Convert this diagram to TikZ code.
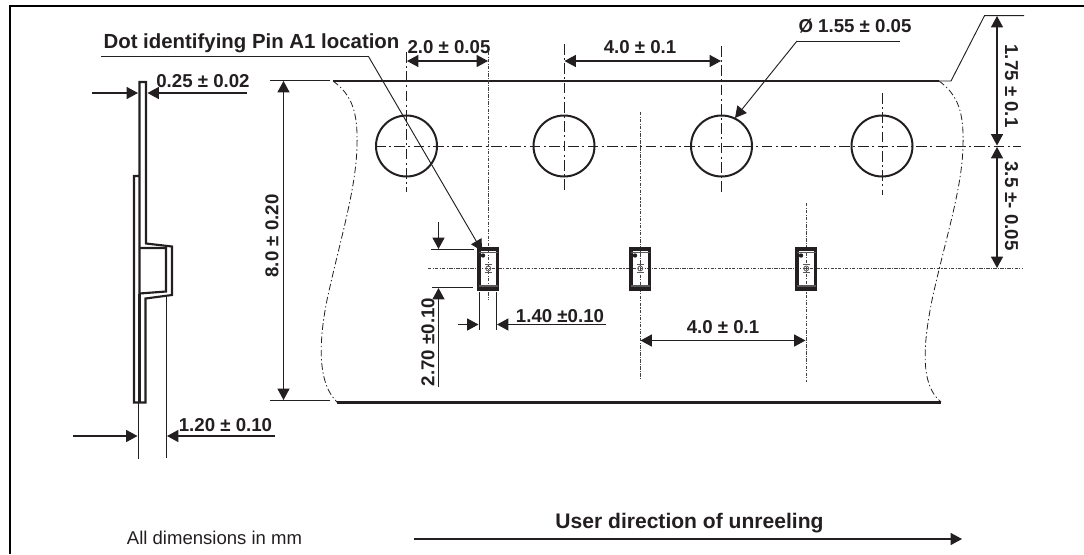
\documentclass[tikz,border=0pt]{standalone}
\usepackage{fontspec}
\setmainfont{Liberation Sans}
\usetikzlibrary{arrows.meta}
\definecolor{myink}{RGB}{35,31,32}
\tikzset{
	dimline/.style={draw=myink, line width=0.85pt},
	dimarrow/.style={dimline, -{Triangle[length=8.5pt,width=9pt]}},
	dimboth/.style={dimline, {Triangle[length=8.5pt,width=9pt]}-{Triangle[length=8.5pt,width=9pt]}},
	extline/.style={draw=myink, line width=0.7pt},
	outline/.style={draw=myink, line width=1.6pt},
	edgeline/.style={draw=myink, line width=1.9pt},
	centerline/.style={draw=myink, line width=0.75pt, dash pattern=on 8pt off 2.5pt on 1.5pt off 2.5pt},
	curveline/.style={draw=myink, line width=0.6pt, dash pattern=on 5pt off 2pt on 1pt off 2pt},
	chipline/.style={draw=myink!85, line width=0.7pt, dash pattern=on 2.5pt off 1pt on 0.8pt off 1pt},
	dimlabel/.style={font=\bfseries\fontsize{14}{16}\selectfont, text=myink, inner sep=0pt}
}

\begin{document}
\begin{tikzpicture}[x=0.75pt, y=-0.75pt]
	\useasboundingbox (0,0) rectangle (1084,554);

	% frame
	\draw[line width=2pt, black] (10,554) -- (10,6) -- (1084,6);

	% side view of the tape
	\draw[outline] (139.5,402.5) -- (139.5,82) -- (146,82) -- (146,243.5) -- (172,246.5) -- (172,295) -- (145.5,298.5) -- (145.5,402.5) -- (134,402.5) -- (134,176) -- (139.5,176);
	\draw[outline] (139.5,248) -- (166,248) -- (166,291.5) -- (139.5,293.5);
	\draw[outline] (139.5,293.5) -- (139.5,402.5);

	% side view dimensions
	\draw[dimarrow] (92,93) -- (138,93);
	\draw[dimarrow] (247,93) -- (147.5,93);
	\node[dimlabel] (labelthick) at (203,81) {0.25 ± 0.02};
	\draw[extline] (138,403) -- (138,459);
	\draw[extline] (166.5,296) -- (166.5,458);
	\draw[dimarrow] (73,436) -- (137.5,436);
	\draw[dimarrow] (275,436) -- (167,436);
	\node[dimlabel] (labelpocket) at (225.5,425) {1.20 ± 0.10};

	% tape width
	\draw[extline] (270,80.5) -- (330,80.5);
	\draw[extline] (270,400.5) -- (330,400.5);
	\draw[dimboth] (283.5,81) -- (283.5,400);
	\node[dimlabel, rotate=90] (labelwidth) at (272,236) {8.0 ± 0.20};

	% tape edges
	\draw[edgeline] (333,81) -- (939,81);
	\draw[edgeline] (337,402.5) -- (941,402.5);
	\draw[extline] (939,81) -- (951,81) -- (984.5,15.7) -- (1024,15.7);
	\draw[curveline] (333,81) .. controls (352,95) and (358,112) .. (357,146) .. controls (356,190) and (340,240) .. (327,300) .. controls (318,345) and (318,385) .. (338,403);
	\draw[curveline] (939,81) .. controls (958,95) and (964,112) .. (963,146) .. controls (962,190) and (945,240) .. (932,300) .. controls (923,345) and (920,385) .. (941,402);

	% sprocket holes
	\draw[centerline] (375,146) -- (1021,146);
	\foreach \holex/\holetop/\holebot in {406.5/52/192, 564/44/193, 721.5/46/194, 882/93/195} {
		\draw[line width=1.5pt, draw=myink] (\holex,146) circle (30.5);
		\draw[centerline] (\holex,\holetop) -- (\holex,\holebot);
	}

	% carrier pockets
	\draw[chipline] (428,268.5) -- (1023,268.5);
	\draw[chipline] (488.5,52) -- (488.5,300);
	\draw[chipline] (640,112) -- (640,380);
	\draw[chipline] (806,203) -- (806,382);
	\foreach \chipx in {479, 631, 797} {
		\draw[line width=2.6pt, draw=myink] (\chipx,249.2) rectangle ++(18.5,40);
		\draw[line width=1pt, draw=myink!75] (\chipx,252.5) -- ++(18.5,0);
		\draw[line width=1pt, draw=myink!75] (\chipx,286) -- ++(18.5,0);
		\fill[myink] (\chipx+4,255.5) circle (2.2);
		\draw[line width=0.6pt, draw=myink!75] (\chipx+9.25,268.5) circle (2.5);
		\draw[line width=0.6pt, draw=myink!75] (\chipx+6,272.5) -- ++(6.5,0);
		\draw[line width=0.6pt, draw=myink!75] (\chipx+6,264.5) -- ++(6.5,0);
	}

	% dot leader
	\node[dimlabel, font=\bfseries\fontsize{15.3}{17}\selectfont] (labeldot) at (251.5,43) {Dot identifying Pin A1 location};
	\draw[extline] (101,56.5) -- (368.5,56.5);
	\draw[dimarrow, line width=0.7pt] (368.5,56.5) -- (482,251);

	% pitch dimensions
	\draw[dimboth] (407,61) -- (488,61);
	\node[dimlabel] (labelhalf) at (449,47) {2.0 ± 0.05};
	\draw[dimboth] (564.5,61) -- (721,61);
	\node[dimlabel] (labelpitch) at (640,47) {4.0 ± 0.1};
	\draw[dimboth] (640.5,340.5) -- (805.5,340.5);
	\node[dimlabel] (labelchip) at (723,327) {4.0 ± 0.1};

	% hole diameter
	\node[dimlabel] (labelhole) at (855,26.5) {Ø 1.55 ± 0.05};
	\draw[extline] (900,41) -- (797,41);
	\draw[dimarrow, line width=0.7pt] (797,41) -- (735,118);

	% pitch to the edge
	\draw[dimboth] (997,16) -- (997,145.5);
	\draw[dimboth] (997,147) -- (997,268);
	\node[dimlabel, rotate=-90] (labeledge) at (1011.5,86) {1.75 ± 0.1};
	\node[dimlabel, rotate=-90] (labelrow) at (1011.5,206) {3.5 ±- 0.05};

	% chip dimensions
	\draw[extline] (431,249.5) -- (474,249.5);
	\draw[extline] (432,287.5) -- (473,287.5);
	\draw[dimarrow] (438.5,222) -- (438.5,249);
	\draw[dimarrow] (438.5,386.5) -- (438.5,288);
	\node[dimlabel, rotate=90] (labellength) at (428,342) {2.70 ±0.10};
	\draw[extline] (479,292) -- (479,330);
	\draw[extline] (496.5,292) -- (496.5,330);
	\draw[dimarrow] (458,324.5) -- (478.5,324.5);
	\draw[dimarrow] (606,324.5) -- (497,324.5);
	\node[dimlabel] (labelchipw) at (560,316) {1.40 ±0.10};

	% footer
	\node[inner sep=0pt, text=myink, font=\fontsize{13.9}{16}\selectfont] (labelunits) at (214.5,538) {All dimensions in mm};
	\node[dimlabel, font=\bfseries\fontsize{15.8}{18}\selectfont] (labelreel) at (689.5,523) {User direction of unreeling};
	\draw[dimarrow] (414,539) -- (962,539);
\end{tikzpicture}
\end{document}
